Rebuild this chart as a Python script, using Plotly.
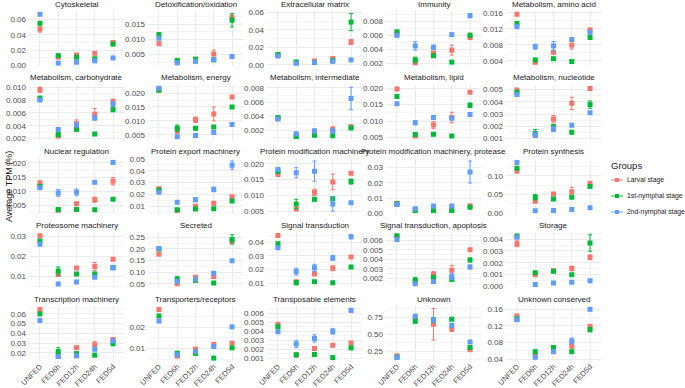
import numpy as np
import plotly.graph_objects as go

categories = ["UNFED", "FED6h", "FED12h", "FED24h", "FED5d"]
panels = ["Cytoskeletal", "Detoxification/oxidation", "Extracellular matrix", "Immunity", "Metabolism, amino acid",
          "Metabolism, carbohydrate", "Metabolism, energy", "Metabolism, intermediate", "Metabolism, lipid", "Metabolism, nucleotide",
          "Nuclear regulation", "Protein export machinery", "Protein modification machinery", "Protein modification machinery, protease", "Protein synthesis",
          "Proteosome machinery", "Secreted", "Signal transduction", "Signal transduction, apoptosis", "Storage",
          "Transcription machinery", "Transporters/receptors", "Transposable elements", "Unknown", "Unknown conserved"]
groups = ["Larval stage", "1st-nymphal stage", "2nd-nymphal stage"]

larval = [
    [0.0475, 0.011, 0.0138, 0.016, 0.030],
    [0.0086, 0.0028, 0.0035, 0.0052, 0.0173],
    [0.011, 0.0028, 0.0044, 0.0073, 0.0263],
    [0.0063, 0.0021, 0.0035, 0.0039, 0.0057],
    [0.0156, 0.0036, 0.0061, 0.0079, 0.0117],
    [0.0096, 0.0024, 0.0043, 0.0058, 0.0078],
    [0.0212, 0.0065, 0.0104, 0.0125, 0.0186],
    [0.0037, 0.0011, 0.0016, 0.0021, 0.0025],
    [0.0198, 0.0055, 0.0088, 0.0111, 0.0188],
    [0.00495, 0.00125, 0.00259, 0.00387, 0.00508],
    [0.013, 0.0033, 0.0056, 0.007, 0.0135],
    [0.0248, 0.0064, 0.010, 0.0125, 0.018],
    [0.0166, 0.0057, 0.011, 0.0143, 0.017],
    [0.0066, 0.0021, 0.0025, 0.0034, 0.005],
    [0.112, 0.032, 0.0513, 0.0574, 0.080],
    [0.0303, 0.0108, 0.0141, 0.0149, 0.0185],
    [0.177, 0.050, 0.078, 0.081, 0.233],
    [0.045, 0.0112, 0.0171, 0.021, 0.0293],
    [0.0064, 0.00166, 0.0024, 0.00285, 0.005],
    [0.00362, 0.00097, 0.00132, 0.00151, 0.00246],
    [0.0643, 0.017, 0.0253, 0.0283, 0.0337],
    [0.0283, 0.0064, 0.0097, 0.0119, 0.0125],
    [0.00476, 0.0014, 0.0021, 0.00245, 0.0027],
    [0.182, 0.741, 0.645, 0.577, 0.273],
    [0.1443, 0.049, 0.058, 0.072, 0.119],
]
larval_err = [
    [0.004, 0.001, 0.001, 0.001, 0.001],
    [0.0003, 0.0003, 0.0002, 0.0013, 0.0006],
    [0.0005, 0.0003, 0.0004, 0.001, 0.003],
    [0.0002, 0.0001, 0.0002, 0.0007, 0.0003],
    [0.0002, 0.0003, 0.0004, 0.001, 0.0003],
    [0.0004, 0.0002, 0.0006, 0.0009, 0.0002],
    [0.0003, 0.001, 0.001, 0.0025, 0.0004],
    [0.0002, 0.0001, 0.0002, 0.0004, 0.0002],
    [0.0005, 0.0004, 0.001, 0.0016, 0.0003],
    [0.0001, 0.0001, 0.0003, 0.0005, 0.0001],
    [0.0003, 0.0003, 0.0005, 0.0009, 0.0013],
    [0.0005, 0.0005, 0.0008, 0.0015, 0.0006],
    [0.0004, 0.0003, 0.001, 0.0025, 0.0004],
    [0.0003, 0.0002, 0.0003, 0.0004, 0.0004],
    [0.003, 0.002, 0.003, 0.012, 0.003],
    [0.0005, 0.0005, 0.0005, 0.002, 0.0005],
    [0.005, 0.004, 0.004, 0.008, 0.01],
    [0.0005, 0.0008, 0.0015, 0.0018, 0.0005],
    [0.0001, 0.0001, 0.0003, 0.0005, 0.0001],
    [0.00025, 0.00007, 0.00006, 0.0002, 0.0002],
    [0.001, 0.001, 0.001, 0.0035, 0.001],
    [0.0005, 0.0003, 0.0004, 0.0007, 0.0004],
    [0.0002, 0.0001, 0.0001, 0.0001, 0.0001],
    [0.01, 0.02, 0.23, 0.04, 0.02],
    [0.002, 0.003, 0.004, 0.007, 0.004],
]
nymph1 = [
    [0.055, 0.013, 0.011, 0.009, 0.028],
    [0.0116, 0.0031, 0.0035, 0.0033, 0.0163],
    [0.012, 0.0033, 0.0029, 0.005, 0.049],
    [0.0065, 0.0025, 0.0031, 0.0022, 0.006],
    [0.0133, 0.0042, 0.0045, 0.0038, 0.0098],
    [0.0083, 0.0026, 0.0034, 0.0027, 0.0065],
    [0.021, 0.0073, 0.0073, 0.0078, 0.015],
    [0.0038, 0.0011, 0.0013, 0.0012, 0.0023],
    [0.0175, 0.0059, 0.006, 0.0055, 0.0148],
    [0.00477, 0.00144, 0.00195, 0.00151, 0.00377],
    [0.0118, 0.0035, 0.0035, 0.0034, 0.0072],
    [0.0237, 0.007, 0.0075, 0.0078, 0.0144],
    [0.0176, 0.0073, 0.0088, 0.009, 0.0144],
    [0.0063, 0.0017, 0.0017, 0.0017, 0.004],
    [0.12, 0.0426, 0.038, 0.0426, 0.0713],
    [0.0276, 0.0126, 0.0111, 0.0111, 0.0144],
    [0.200, 0.071, 0.064, 0.054, 0.241],
    [0.039, 0.0105, 0.0112, 0.0105, 0.022],
    [0.00647, 0.0018, 0.00207, 0.00186, 0.00393],
    [0.00427, 0.00116, 0.00127, 0.00097, 0.00368],
    [0.0597, 0.0213, 0.0193, 0.0177, 0.0293],
    [0.0253, 0.0078, 0.0077, 0.0055, 0.0103],
    [0.00448, 0.0014, 0.00145, 0.0011, 0.00217],
    [0.165, 0.69, 0.71, 0.718, 0.305],
    [0.137, 0.058, 0.068, 0.058, 0.111],
]
nymph1_err = [
    [0.002, 0.002, 0.001, 0.001, 0.002],
    [0.0003, 0.0005, 0.0002, 0.0002, 0.0022],
    [0.0005, 0.0003, 0.0003, 0.0005, 0.0098],
    [0.0002, 0.0004, 0.0002, 0.0001, 0.0003],
    [0.0003, 0.0003, 0.0002, 0.0002, 0.0002],
    [0.0003, 0.0003, 0.0002, 0.0001, 0.0003],
    [0.0003, 0.0012, 0.0006, 0.0003, 0.0003],
    [0.0002, 0.0001, 0.0001, 0.0001, 0.0001],
    [0.0004, 0.0006, 0.0003, 0.0003, 0.0007],
    [0.0001, 0.0003, 0.0002, 0.0001, 0.0003],
    [0.0003, 0.0004, 0.0002, 0.0002, 0.0002],
    [0.0005, 0.0005, 0.0005, 0.0004, 0.0004],
    [0.0004, 0.0015, 0.0006, 0.0006, 0.0008],
    [0.0003, 0.0002, 0.0002, 0.0002, 0.0003],
    [0.003, 0.0075, 0.002, 0.003, 0.003],
    [0.0006, 0.002, 0.0004, 0.0008, 0.0004],
    [0.004, 0.011, 0.004, 0.004, 0.02],
    [0.0006, 0.0015, 0.0005, 0.0005, 0.0005],
    [0.0001, 0.0003, 0.0002, 0.0001, 0.0002],
    [0.0001, 0.0001, 0.0001, 0.00005, 0.0007],
    [0.001, 0.004, 0.001, 0.0005, 0.001],
    [0.0004, 0.0005, 0.0004, 0.0002, 0.0003],
    [0.0002, 0.0002, 0.0002, 0.0001, 0.0001],
    [0.01, 0.03, 0.02, 0.01, 0.03],
    [0.002, 0.004, 0.005, 0.003, 0.005],
]
nymph2 = [
    [0.0667, 0.0033, 0.0045, 0.0062, 0.010],
    [0.0104, 0.0023, 0.0028, 0.0034, 0.0044],
    [0.0102, 0.0018, 0.0026, 0.004, 0.0058],
    [0.006, 0.0045, 0.0043, 0.0061, 0.0088],
    [0.0125, 0.0075, 0.0077, 0.0093, 0.0111],
    [0.008, 0.0034, 0.0041, 0.0052, 0.0074],
    [0.0217, 0.0043, 0.0047, 0.0058, 0.0087],
    [0.0036, 0.0015, 0.0019, 0.0019, 0.0065],
    [0.0153, 0.0095, 0.0111, 0.0109, 0.012],
    [0.0046, 0.00131, 0.00177, 0.00208, 0.0031],
    [0.0112, 0.0094, 0.0096, 0.0132, 0.0202],
    [0.0218, 0.0133, 0.0155, 0.0242, 0.0448],
    [0.0182, 0.0172, 0.0177, 0.0073, 0.0077],
    [0.0057, 0.003, 0.0047, 0.0047, 0.027],
    [0.1357, 0.006, 0.007, 0.0096, 0.0139],
    [0.026, 0.0061, 0.0071, 0.0095, 0.0141],
    [0.202, 0.061, 0.070, 0.095, 0.149],
    [0.036, 0.0186, 0.0214, 0.0286, 0.044],
    [0.00607, 0.00142, 0.00166, 0.00217, 0.00319],
    [0.00416, 0.00016, 0.00027, 0.00035, 0.00046],
    [0.053, 0.0163, 0.017, 0.0237, 0.0323],
    [0.0229, 0.007, 0.0086, 0.0109, 0.0202],
    [0.00394, 0.0026, 0.0032, 0.00398, 0.0063],
    [0.159, 0.764, 0.705, 0.627, 0.386],
    [0.135, 0.0447, 0.059, 0.084, 0.160],
]
nymph2_err = [
    [0.001, 0.0005, 0.0005, 0.0005, 0.0005],
    [0.0005, 0.0002, 0.0002, 0.0002, 0.0002],
    [0.0005, 0.0002, 0.0002, 0.0003, 0.0003],
    [0.0002, 0.0006, 0.0003, 0.0002, 0.0003],
    [0.0002, 0.0006, 0.0011, 0.0003, 0.0004],
    [0.0002, 0.0002, 0.0003, 0.0003, 0.0004],
    [0.0004, 0.0002, 0.0002, 0.0002, 0.0002],
    [0.0002, 0.0002, 0.0003, 0.0003, 0.0016],
    [0.0003, 0.0006, 0.0006, 0.0005, 0.0003],
    [0.0001, 0.0002, 0.0002, 0.0001, 0.0001],
    [0.0004, 0.0012, 0.0012, 0.0005, 0.0005],
    [0.0006, 0.0013, 0.0015, 0.002, 0.0035],
    [0.0004, 0.0016, 0.0032, 0.0022, 0.0003],
    [0.0003, 0.0003, 0.0004, 0.0004, 0.0072],
    [0.004, 0.0005, 0.0005, 0.0005, 0.0008],
    [0.0006, 0.0004, 0.0004, 0.0005, 0.0005],
    [0.004, 0.008, 0.004, 0.005, 0.004],
    [0.0005, 0.0025, 0.0025, 0.0018, 0.0015],
    [0.0001, 0.0001, 0.0002, 0.0003, 0.0002],
    [0.0001, 0.00003, 0.00003, 0.00003, 0.00003],
    [0.0015, 0.002, 0.0015, 0.001, 0.001],
    [0.0004, 0.0008, 0.0006, 0.0005, 0.0004],
    [0.0001, 0.0004, 0.0004, 0.0003, 0.0002],
    [0.015, 0.02, 0.03, 0.02, 0.01],
    [0.002, 0.003, 0.004, 0.007, 0.002],
]

y_dticks = [0.02, 0.005, 0.02, 0.002, 0.004, 0.002, 0.005, 0.002, 0.005, 0.001,
            0.005, 0.01, 0.005, 0.01, 0.05, 0.01, 0.05, 0.01, 0.001, 0.001,
            0.01, 0.01, 0.001, 0.25, 0.04]
y_formats = [".2f", ".3f", ".2f", ".3f", ".3f", ".3f", ".3f", ".3f", ".3f", ".3f",
             ".3f", ".2f", ".3f", ".2f", ".2f", ".2f", ".2f", ".2f", ".3f", ".3f",
             ".2f", ".2f", ".3f", ".2f", ".2f"]

colors = ["#F8766D", "#00BA38", "#619CFF"]
series = [(larval, larval_err), (nymph1, nymph1_err), (nymph2, nymph2_err)]

W, H = 685, 388
col_left = [29, 148, 267, 386, 506]
col_w = 95
row_top = [11, 84.75, 158.5, 232.25, 306]
row_h = 55

FONT = "Liberation Sans, Arial, sans-serif"
xpos = list(range(len(categories)))

fig = go.Figure()
layout = {}
annotations = []
shapes = []
for i, title in enumerate(panels):
    r, c = divmod(i, 5)
    n = i + 1
    xa = "x" if n == 1 else f"x{n}"
    ya = "y" if n == 1 else f"y{n}"
    lo_all, hi_all = [], []
    for (vals, errs), col in zip(series, colors):
        v = np.array(vals[i]); e = np.array(errs[i])
        lo_all.append((v - e).min()); hi_all.append((v + e).max())
        fig.add_trace(go.Scatter(
            x=xpos, y=vals[i], mode="markers", xaxis=xa, yaxis=ya,
            marker=dict(symbol="square", size=5, color=col),
            error_y=dict(type="data", array=errs[i], width=2, thickness=1, color=col),
            showlegend=False, hoverinfo="skip"))
    lo, hi = min(lo_all), max(hi_all)
    pad = (hi - lo) * 0.05
    x0 = col_left[c] / W
    x1 = (col_left[c] + col_w) / W
    y1 = 1 - row_top[r] / H
    y0 = 1 - (row_top[r] + row_h) / H
    layout[f"xaxis{n}"] = dict(
        domain=[x0, x1], anchor=ya, range=[-0.6, 4.6], tickmode="array",
        tickvals=xpos, ticktext=categories, showgrid=True, gridcolor="#EBEBEB", gridwidth=1,
        zeroline=False, showline=False, ticks="", showticklabels=(r == 4), tickangle=-45,
        ticklabelstandoff=-1,
        tickfont=dict(size=7.5, color="#4D4D4D", family=FONT), automargin=False)
    layout[f"yaxis{n}"] = dict(
        domain=[y0, y1], anchor=xa, range=[lo - pad, hi + pad], tick0=0, dtick=y_dticks[i],
        tickformat=y_formats[i], showgrid=True, gridcolor="#EBEBEB", gridwidth=1,
        minor=dict(dtick=y_dticks[i] / 2, tick0=0, showgrid=True, gridcolor="#F5F5F5", gridwidth=0.6),
        zeroline=False, showline=False, ticks="", ticklabelstandoff=2,
        tickfont=dict(size=8, color="#4D4D4D", family=FONT), automargin=False)
    annotations.append(dict(
        text=title, x=(x0 + x1) / 2, y=y1 + 0.5 / H, xref="paper", yref="paper",
        xanchor="center", yanchor="bottom", showarrow=False,
        font=dict(size=8, color="#1A1A1A", family=FONT)))

annotations.append(dict(
    text="Average TPM (%)", x=9 / W, y=1 - 187 / H, xref="paper", yref="paper",
    xanchor="center", yanchor="middle", textangle=-90, showarrow=False,
    font=dict(size=9, color="#1A1A1A", family=FONT)))

# Legend (drawn manually so it fits the narrow right strip)
annotations.append(dict(
    text="Groups", x=609 / W, y=1 - 165 / H, xref="paper", yref="paper",
    xanchor="left", yanchor="middle", showarrow=False,
    font=dict(size=9.5, color="#1A1A1A", family=FONT)))
leg_y = [180, 196, 212]
for g, col, ly in zip(groups, colors, leg_y):
    yy = 1 - ly / H
    shapes.append(dict(type="line", xref="paper", yref="paper",
                       x0=611 / W, x1=623 / W, y0=yy, y1=yy,
                       line=dict(color=col, width=1)))
    shapes.append(dict(type="rect", xref="paper", yref="paper",
                       x0=615 / W, x1=619 / W, y0=yy - 2 / H, y1=yy + 2 / H,
                       line=dict(width=0), fillcolor=col))
    annotations.append(dict(
        text=g, x=625 / W, y=yy, xref="paper", yref="paper",
        xanchor="left", yanchor="middle", showarrow=False,
        font=dict(size=6.8, color="#1A1A1A", family=FONT)))

fig.update_layout(
    template="none", width=W, height=H,
    margin=dict(l=0, r=0, t=0, b=0),
    paper_bgcolor="white", plot_bgcolor="white",
    font=dict(family=FONT, color="#1A1A1A"),
    annotations=annotations, shapes=shapes,
    showlegend=False,
    **layout)

fig.write_html("out.html", config={"displayModeBar": False},
               post_script="document.body.style.margin='0';document.body.style.overflow='hidden';")
